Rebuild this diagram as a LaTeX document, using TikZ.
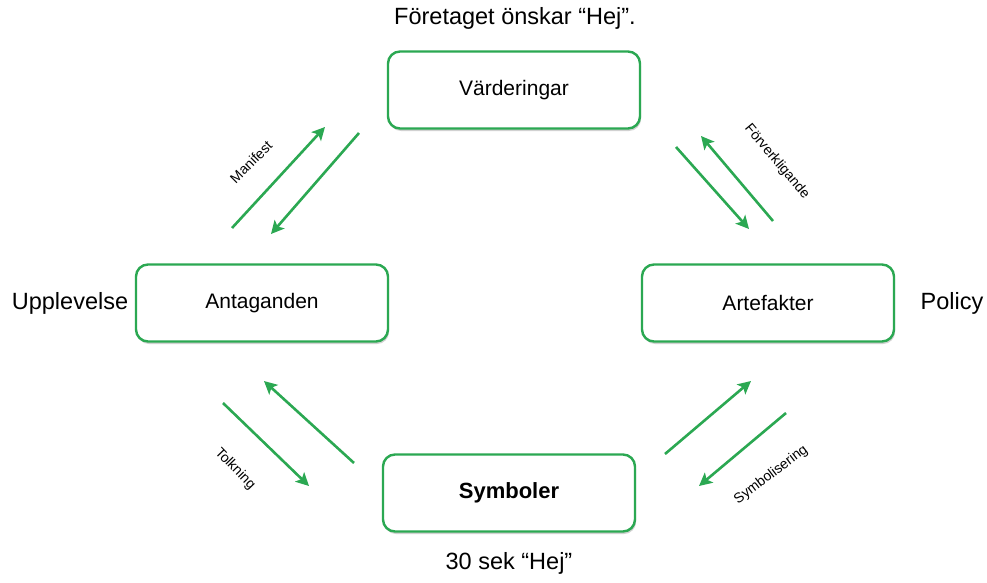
\documentclass[tikz,border=0pt]{standalone}
\usepackage{fontspec}
\setmainfont{Liberation Sans}
\usetikzlibrary{arrows.meta,shadows}
\definecolor{grn}{RGB}{43,168,82}
\tikzset{
  box/.style={draw=grn, line width=2.4pt, rounded corners=12pt, fill=white,
    minimum width=252pt, minimum height=77pt, inner sep=0pt,
    drop shadow={shadow xshift=1pt, shadow yshift=-2.5pt, fill=black, opacity=0.18},
    font=\fontsize{21}{24}\selectfont},
  outer/.style={font=\fontsize{23.5}{27}\selectfont, inner sep=0pt},
  lbl/.style={font=\fontsize{14}{16}\selectfont, inner sep=0pt},
  arr/.style={draw=grn, line width=2.6pt, -{Stealth[length=13pt,width=13pt,inset=3pt]}}
}
\begin{document}
\begin{tikzpicture}[x=1pt,y=-1pt]
\useasboundingbox (0,0) rectangle (987,583);
% boxes
\node[box] (v) at (514,90) {Värderingar};
\node[box] (an) at (262,303) {Antaganden};
\node[box] (ar) at (768,303) {Artefakter};
\node[box] (s) at (509,493) {\fontsize{22}{25}\selectfont\bfseries Symboler};
% outer texts
\node[outer] (tt) at (515,18) {Företaget önskar “Hej”.};
\node[outer] (up) at (70,303) {Upplevelse};
\node[outer] (po) at (952,303) {Policy};
\node[outer] (bt) at (509,563) {30 sek “Hej”};
% arrow end points
\coordinate (m1s) at (232,228); \coordinate (m1e) at (325,127);
\coordinate (m2s) at (359,133); \coordinate (m2e) at (271,234);
\coordinate (f1s) at (676,147); \coordinate (f1e) at (749,229);
\coordinate (f2s) at (773,221); \coordinate (f2e) at (701,136);
\coordinate (t1s) at (223,403); \coordinate (t1e) at (309,486);
\coordinate (t2s) at (354,463); \coordinate (t2e) at (264,381);
\coordinate (s1s) at (665,454); \coordinate (s1e) at (751,381);
\coordinate (s2s) at (786,413); \coordinate (s2e) at (699,486);
\draw[arr] (m1s) -- (m1e);
\draw[arr] (m2s) -- (m2e);
\draw[arr] (f1s) -- (f1e);
\draw[arr] (f2s) -- (f2e);
\draw[arr] (t1s) -- (t1e);
\draw[arr] (t2s) -- (t2e);
\draw[arr] (s1s) -- (s1e);
\draw[arr] (s2s) -- (s2e);
% labels
\node[lbl, rotate=45] (lm) at (251,162) {Manifest};
\node[lbl, rotate=-50] (lf) at (777,162) {Förverkligande};
\node[lbl, rotate=-46] (lt) at (235,469) {Tolkning};
\node[lbl, rotate=37] (ls) at (771,475) {Symbolisering};
\end{tikzpicture}
\end{document}
